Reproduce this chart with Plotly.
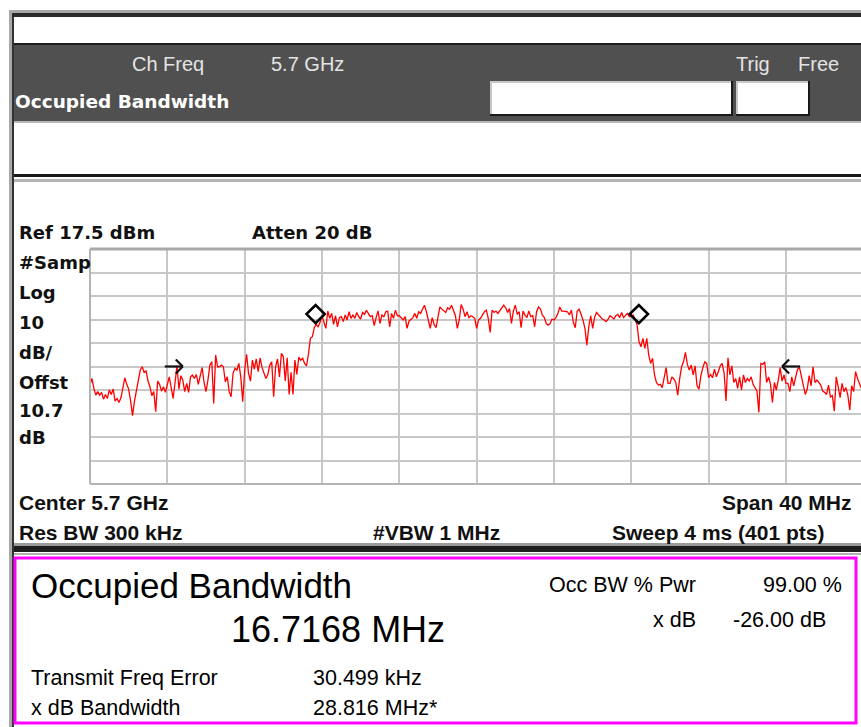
import plotly.graph_objects as go

# ---------------- data ----------------
CENTER_MHZ = 5700.0
SPAN_MHZ = 40.0
N_POINTS = 401
REF_DBM = 17.5
DB_PER_DIV = 10

trace_dbm = [
    -40.4, -37.6, -41.8, -44.7, -43.2, -44.7, -43.5, -46.4, -44.4, -46.1,
    -42.5, -44.4, -42.1, -47.2, -46.1, -47.8, -45.8, -40.7, -37.3, -40.1,
    -42.1, -47.2, -53.4, -47.2, -43.0, -38.7, -34.0, -32.6, -35.0, -34.4,
    -38.7, -41.1, -44.9, -43.2, -51.7, -38.7, -40.1, -43.0, -41.1, -43.5,
    -40.4, -36.9, -41.5, -46.1, -39.3, -32.2, -42.1, -36.4, -38.3, -43.2,
    -39.7, -43.5, -36.9, -36.1, -37.6, -35.9, -40.1, -36.9, -33.0, -39.3,
    -43.2, -38.3, -31.9, -30.5, -48.2, -27.6, -32.6, -32.6, -31.9, -32.6,
    -39.0, -36.9, -43.2, -45.4, -35.4, -33.3, -34.0, -31.2, -36.9, -47.5,
    -34.0, -27.3, -35.4, -38.7, -29.8, -33.6, -29.3, -34.7, -28.8, -33.0,
    -35.4, -37.6, -35.9, -31.9, -30.5, -45.4, -32.6, -29.3, -36.9, -26.9,
    -28.3, -38.7, -28.8, -44.4, -35.0, -44.4, -29.8, -35.9, -28.5, -29.8,
    -29.0, -31.2, -32.2, -27.3, -20.5, -19.8, -16.0, -14.6, -15.6, -13.7,
    -10.9, -13.2, -16.3, -8.9, -12.0, -9.9, -14.6, -10.9, -15.6, -11.7,
    -11.3, -13.4, -10.6, -12.7, -9.2, -12.0, -10.6, -12.0, -9.5, -11.3,
    -12.3, -9.5, -10.3, -8.6, -10.0, -11.3, -10.9, -15.1, -11.7, -8.8,
    -14.2, -10.6, -11.3, -9.2, -8.9, -15.6, -9.9, -12.0, -8.5, -10.9,
    -10.9, -11.7, -12.7, -11.3, -16.3, -13.2, -12.3, -11.7, -9.9, -12.0,
    -9.2, -9.9, -8.1, -6.4, -9.2, -12.7, -16.3, -11.7, -14.6, -16.0,
    -10.9, -7.1, -8.1, -8.9, -9.5, -7.5, -8.1, -6.4, -8.5, -10.9,
    -16.3, -12.7, -6.1, -8.1, -11.3, -9.2, -11.7, -10.9, -11.3, -12.0,
    -16.3, -12.7, -12.0, -10.6, -9.2, -8.5, -12.0, -18.0, -8.5, -9.5,
    -8.9, -9.9, -8.9, -7.5, -6.4, -7.5, -9.5, -7.8, -14.2, -8.9,
    -6.4, -10.3, -9.2, -16.0, -8.9, -10.6, -11.7, -8.9, -11.3, -10.9,
    -15.6, -9.2, -7.2, -8.1, -10.6, -11.7, -14.2, -14.9, -14.2, -12.3,
    -12.7, -11.7, -10.0, -7.2, -8.9, -8.9, -9.2, -9.2, -10.6, -8.5,
    -13.7, -16.0, -8.9, -8.1, -10.3, -12.7, -16.3, -23.4, -15.6, -10.9,
    -16.3, -11.7, -9.5, -10.6, -11.7, -12.3, -12.7, -13.4, -12.3, -10.9,
    -11.5, -12.3, -10.9, -10.3, -11.7, -9.5, -11.7, -10.6, -9.9, -11.3,
    -10.9, -10.6, -12.7, -14.9, -22.0, -24.1, -20.5, -24.8, -20.5, -27.6,
    -31.2, -29.0, -36.1, -39.3, -40.4, -40.1, -41.5, -36.9, -33.0, -39.7,
    -39.7, -36.9, -37.8, -39.3, -44.7, -37.8, -32.6, -30.5, -26.5, -31.6,
    -34.0, -31.9, -36.1, -32.2, -40.7, -42.1, -36.4, -33.0, -30.5, -31.2,
    -37.3, -35.9, -37.3, -33.6, -36.9, -34.7, -32.2, -31.2, -35.4, -47.2,
    -28.8, -36.1, -32.2, -39.3, -37.6, -41.8, -36.9, -42.5, -36.1, -39.3,
    -37.6, -38.7, -36.9, -40.1, -41.5, -43.0, -52.0, -31.2, -31.6, -30.5,
    -39.3, -36.9, -40.1, -47.8, -39.3, -42.5, -38.3, -33.0, -38.7, -36.1,
    -39.7, -39.7, -43.2, -36.9, -40.7, -36.9, -33.6, -33.0, -36.4, -40.7,
    -44.4, -42.1, -36.4, -40.7, -32.6, -39.3, -38.3, -39.3, -40.4, -43.0,
    -43.5, -44.4, -40.4, -45.4, -44.9, -51.5, -36.9, -41.1, -45.8, -39.7,
    -43.2, -41.5, -44.7, -51.0, -40.7, -43.2, -34.7, -37.6, -39.7, -41.8,
    -38.3,
]

obw_marker_mhz = [5691.67, 5708.39]
obw_marker_dbm = [-10.2, -10.2]
xdb_arrow_mhz = [5684.80, 5715.80]   # arrow tips
xdb_arrow_dbm = -32.5

header_labels = ["Ch Freq", "5.7 GHz", "Trig", "Free"]
side_labels = ["#Samp", "Log", "10", "dB/", "Offst", "10.7", "dB"]

# ---------------- geometry helpers ----------------
W, H = 861, 727
PLOT_L, PLOT_R, PLOT_T, PLOT_B = 90, 861, 249, 484
PX_PER_MHZ = 77.33 / 4.0

def X(p):
    return p / W

def Y(p):
    return 1 - p / H

start = CENTER_MHZ - SPAN_MHZ / 2
step = SPAN_MHZ / (N_POINTS - 1)
freq = [start + step * i for i in range(N_POINTS)]
x_hi = start + (PLOT_R - PLOT_L) / PX_PER_MHZ
y_lo = REF_DBM - 10 * DB_PER_DIV

fig = go.Figure()
fig.add_trace(go.Scatter(x=freq, y=trace_dbm, mode="lines",
                         line=dict(color="#ff0000", width=1.3),
                         hoverinfo="skip", showlegend=False))
fig.add_trace(go.Scatter(x=obw_marker_mhz, y=obw_marker_dbm, mode="markers",
                         marker=dict(symbol="diamond-open", size=14, color="black",
                                     line=dict(width=2.6, color="black")),
                         hoverinfo="skip", showlegend=False))

shapes = []

def rect(x0, y0, x1, y1, fill, line_color=None, lw=0):
    shapes.append(dict(type="rect", xref="paper", yref="paper",
                       x0=X(x0), x1=X(x1), y0=Y(y1), y1=Y(y0),
                       fillcolor=fill, line=dict(width=lw, color=line_color or fill),
                       layer="above"))

def hline(x0, x1, y, color, w):
    shapes.append(dict(type="line", xref="paper", yref="paper",
                       x0=X(x0), x1=X(x1), y0=Y(y), y1=Y(y),
                       line=dict(color=color, width=w), layer="above"))

def vline(x, y0, y1, color, w):
    shapes.append(dict(type="line", xref="paper", yref="paper",
                       x0=X(x), x1=X(x), y0=Y(y0), y1=Y(y1),
                       line=dict(color=color, width=w), layer="above"))

# outer frame
rect(9, 10, 12, 727, "#a8a8a8")
rect(12, 13, 14, 727, "#333333")
rect(9, 10, 861, 13, "#a8a8a8")
rect(12, 13, 861, 17, "#2a2a2a")
# header band
rect(14, 43, 861, 45, "#1e1e1e")
rect(14, 45, 861, 121, "#505050")
rect(14, 121, 861, 123, "#b8b8b8")
# header boxes
for bx0, bx1 in [(490, 733), (736, 810)]:
    rect(bx0, 81, bx1, 116, "#ffffff")
    hline(bx0, bx1, 82, "#c8c8c8", 2)
    vline(bx0 + 1, 81, 116, "#c8c8c8", 2)
    hline(bx0, bx1, 115, "#1a1a1a", 2)
    vline(bx1 - 1, 81, 116, "#1a1a1a", 2)
# separator lines
rect(14, 174, 861, 177, "#1a1a1a")
rect(14, 179, 861, 182, "#b4b4b4")
rect(14, 543, 861, 546, "#9a9a9a")
rect(14, 546, 861, 552, "#1e1e1e")
rect(14, 553, 861, 555, "#b0b0b0")
# magenta result box
shapes.append(dict(type="rect", xref="paper", yref="paper",
                   x0=X(15), x1=X(856), y0=Y(723), y1=Y(558),
                   line=dict(color="#ff00ff", width=3), fillcolor="rgba(0,0,0,0)",
                   layer="above"))
# graticule border
hline(PLOT_L, PLOT_R, PLOT_T, "#a8a8a8", 3)
hline(PLOT_L, PLOT_R, PLOT_B, "#b4b4b4", 2)
vline(PLOT_L, PLOT_T, PLOT_B, "#b4b4b4", 2)

# x dB arrows (data coordinates)
ah_dx = 7 / PX_PER_MHZ
ah_dy = 7 / 2.35
tail = 18 / PX_PER_MHZ
for tip, direction in [(xdb_arrow_mhz[0], 1), (xdb_arrow_mhz[1], -1)]:
    base = tip - direction * tail
    shapes.append(dict(type="line", xref="x", yref="y", x0=base, x1=tip,
                       y0=xdb_arrow_dbm, y1=xdb_arrow_dbm,
                       line=dict(color="#111111", width=2.2)))
    for s in (1, -1):
        shapes.append(dict(type="line", xref="x", yref="y",
                           x0=tip - direction * ah_dx, x1=tip,
                           y0=xdb_arrow_dbm + s * ah_dy, y1=xdb_arrow_dbm,
                           line=dict(color="#111111", width=2.2)))

annotations = []

def text(t, x, y, size, family="Liberation Sans", color="#000000", bold=False, anchor="left"):
    annotations.append(dict(text=t, x=X(x), y=Y(y), xref="paper", yref="paper",
                            xanchor=anchor, yanchor="middle", showarrow=False,
                            borderpad=0,
                            font=dict(family=family, size=size, color=color,
                                      weight="bold" if bold else "normal")))

# header texts
for lbl, xx in zip(header_labels, [131, 270, 735, 797]):
    text(lbl, xx, 64, 20, color="#e4e4e4")
text("Occupied Bandwidth", 14, 101, 18.5, family="DejaVu Sans", color="#ffffff", bold=True)

# graticule annotations
BOLD_UI = "DejaVu Sans"
text("Ref 17.5 dBm", 18, 233, 18, family=BOLD_UI, color="#111111", bold=True)
text("Atten 20 dB", 251, 233, 18, family=BOLD_UI, color="#111111", bold=True)
for lbl, yy in zip(side_labels, [262, 293, 322, 352, 382, 410, 437]):
    text(lbl, 18, yy, 18, family=BOLD_UI, color="#111111", bold=True)

text("Center 5.7 GHz", 18, 502, 21, color="#111111", bold=True)
text("Span 40 MHz", 853, 502, 21, color="#111111", bold=True, anchor="right")
text("Res BW 300 kHz", 18, 532, 21, color="#111111", bold=True)
text("#VBW 1 MHz", 372, 532, 21, color="#111111", bold=True)
text("Sweep 4 ms (401 pts)", 611, 532, 21, color="#111111", bold=True)

# result panel
text("Occupied Bandwidth", 30, 585, 35)
text("16.7168 MHz", 230, 629, 36)
text("Occ BW % Pwr", 697, 585, 21.5, anchor="right")
text("99.00 %", 843, 585, 21.5, anchor="right")
text("x dB", 697, 620, 21.5, anchor="right")
text("-26.00 dB", 827, 620, 21.5, anchor="right")
text("Transmit Freq Error", 30, 678, 21.5)
text("30.499 kHz", 312, 678, 21.5)
text("x dB Bandwidth", 30, 708, 21.5)
text("28.816 MHz*", 312, 708, 21.5)

fig.update_layout(
    width=W, height=H,
    margin=dict(l=0, r=0, t=0, b=0, pad=0),
    paper_bgcolor="#ffffff", plot_bgcolor="#ffffff",
    showlegend=False,
    shapes=shapes, annotations=annotations,
    xaxis=dict(domain=[X(PLOT_L), 1.0], range=[start, x_hi],
               showticklabels=False, ticks="", zeroline=False,
               showgrid=True, gridcolor="#c8c8c8", gridwidth=2,
               tick0=start, dtick=SPAN_MHZ / 10, fixedrange=True),
    yaxis=dict(domain=[Y(PLOT_B), Y(PLOT_T)], range=[y_lo, REF_DBM],
               showticklabels=False, ticks="", zeroline=False,
               showgrid=True, gridcolor="#c8c8c8", gridwidth=2,
               tick0=REF_DBM, dtick=DB_PER_DIV, fixedrange=True),
)

fig.write_html("out.html",
               config={"displayModeBar": False, "staticPlot": True},
               post_script="document.body.style.margin='0';document.body.style.overflow='hidden';")
